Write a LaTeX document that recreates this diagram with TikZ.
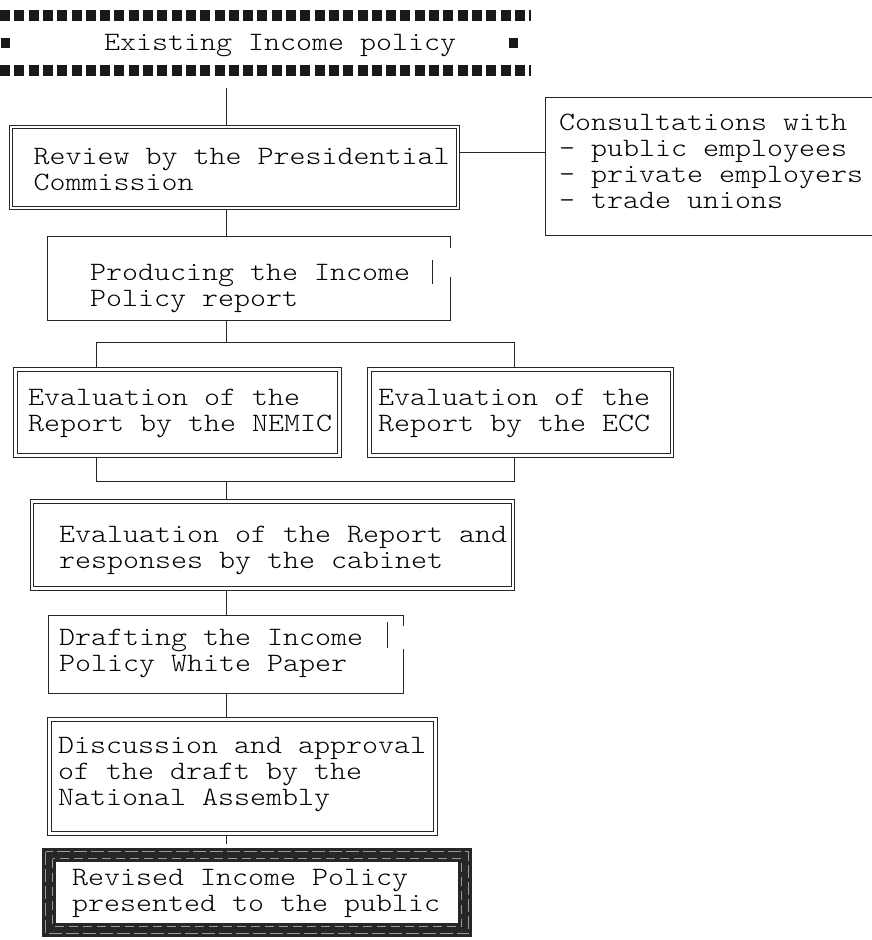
\documentclass[tikz,border=0pt]{standalone}
\usepackage{fontspec}
\newfontfamily\courlike{lmmonolt10-regular.otf}[FakeStretch=1.15]
\usetikzlibrary{backgrounds}
\begin{document}
\begin{tikzpicture}[x=1pt,y=-1pt,
  ln/.style={draw=black!85, line width=0.9pt},
  sbox/.style={ln, fill=white, inner sep=0pt, outer sep=0pt, anchor=north west},
  obox/.style={fill=white, inner sep=0pt, outer sep=0pt, anchor=north west},
  dbox/.style={draw=black!85, line width=0.8pt, double=white, double distance=2.8pt, fill=white, inner sep=0pt, outer sep=0pt, anchor=north west},
  tbox/.style={draw=black!85, line width=14pt, fill=white, inner sep=0pt, outer sep=0pt, anchor=north west},
  txt/.style={inner sep=0pt, anchor=base west, font=\courlike\fontsize{26.5}{26}\selectfont},
  sq/.style={line width=11pt, dash pattern=on 10pt off 4.3pt, black!90},
  conn/.style={draw=black!85, line width=0.9pt},
  texture/.style={black!40, line width=0.7pt, dash pattern=on 9pt off 5pt}
]
\useasboundingbox (0,0) rectangle (871,940);

% trunk and branch coordinates
\coordinate (trunk) at (226,0);
\coordinate (cy) at (0,152);
\coordinate (bL) at (96,342.5);
\coordinate (bR) at (514,342.5);
\coordinate (mL) at (96,481);
\coordinate (mR) at (514,481);

% boxes
\node[inner sep=0pt, outer sep=0pt, anchor=north west, minimum width=530pt, minimum height=66pt] (top) at (0,10) {};
\node[dbox, minimum width=447pt, minimum height=81pt] (rev) at (11,127) {};
\node[sbox, minimum width=335pt, minimum height=138pt] (cons) at (545,97) {};
\node[obox, minimum width=403pt, minimum height=84pt] (pr) at (47,236) {};
\node[dbox, minimum width=324pt, minimum height=86pt] (nem) at (15.5,369.5) {};
\node[dbox, minimum width=302.5pt, minimum height=86pt] (ecc) at (369.5,369.5) {};
\node[dbox, minimum width=481pt, minimum height=87pt] (cab) at (32,501.5) {};
\node[obox, minimum width=355pt, minimum height=78pt] (dr) at (48,615) {};
\node[dbox, minimum width=386pt, minimum height=114pt] (dis) at (49.5,719.5) {};
\node[tbox, minimum width=416pt, minimum height=75pt] (rv) at (49,855) {};

% top box made of square dots
\draw[sq] (0,15.5) -- (531,15.5);
\draw[sq] (0,70.5) -- (531,70.5);
\fill[black!90] (1,38) rectangle (10,48);
\fill[black!90] (509,38) rectangle (518,48);

% open (broken) borders of the single boxes
\draw[ln] (pr.north east) ++(0,12) -- (pr.north east) -- (pr.north west) -- (pr.south west) -- (pr.south east) -- ++(0,-43);
\draw[ln] (432.5,260) -- (432.5,284);
\draw[ln] (dr.north east) ++(0,11) -- (dr.north east) -- (dr.north west) -- (dr.south west) -- (dr.south east) -- ++(0,-44);
\draw[ln] (387.5,622) -- (387.5,648);

% texture of the thick frame
\draw[texture] ([shift={(3.5,3.5)}]rv.north west) rectangle ([shift={(-3.5,-3.5)}]rv.south east);
\draw[texture, dash pattern=on 13pt off 4pt] ([shift={(-3.5,-3.5)}]rv.north west) rectangle ([shift={(3.5,3.5)}]rv.south east);

% texts
\node[txt] (topt) at (104,50) {Existing Income policy};
\node[txt] (revt) at (33.5,164) {\parbox[t]{420pt}{Review by the Presidential\\Commission}};
\node[txt] (const) at (559,130) {\parbox[t]{310pt}{Consultations with\\- public employees\\- private employers\\- trade unions}};
\node[txt] (prt) at (90,280) {\parbox[t]{325pt}{Producing the Income\\Policy report}};
\node[txt] (nemt) at (28,405) {\parbox[t]{306pt}{Evaluation of the\\Report by the NEMIC}};
\node[txt] (ecct) at (378,405) {\parbox[t]{275pt}{Evaluation of the\\Report by the ECC}};
\node[txt] (cabt) at (59,542) {\parbox[t]{450pt}{Evaluation of the Report and\\responses by the cabinet}};
\node[txt] (drt) at (59,645) {\parbox[t]{306pt}{Drafting the Income\\Policy White Paper}};
\node[txt] (dist) at (58,753) {\parbox[t]{370pt}{Discussion and approval\\of the draft by the\\National Assembly}};
\node[txt] (rvt) at (72,885) {\parbox[t]{370pt}{Revised Income Policy\\presented to the public}};

% connectors
\begin{pgfonlayer}{background}
\draw[conn, shorten <=12pt] (top.south -| trunk) -- (rev.north -| trunk);
\draw[conn] (rev.east |- cy) -- (cons.west |- cy);
\draw[conn] (rev.south -| trunk) -- (pr.north -| trunk);
\draw[conn] (pr.south -| trunk) -- (trunk |- bL);
\draw[conn] (nem.north -| bL) -- (bL) -- (bR) -- (ecc.north -| bR);
\draw[conn] (nem.south -| mL) -- (mL) -- (mR) -- (ecc.south -| mR);
\draw[conn] (trunk |- mL) -- (cab.north -| trunk);
\draw[conn] (cab.south -| trunk) -- (dr.north -| trunk);
\draw[conn] (dr.south -| trunk) -- (dis.north -| trunk);
\draw[conn, shorten >=11pt] (dis.south -| trunk) -- (rv.north -| trunk);
\end{pgfonlayer}
\end{tikzpicture}
\end{document}
